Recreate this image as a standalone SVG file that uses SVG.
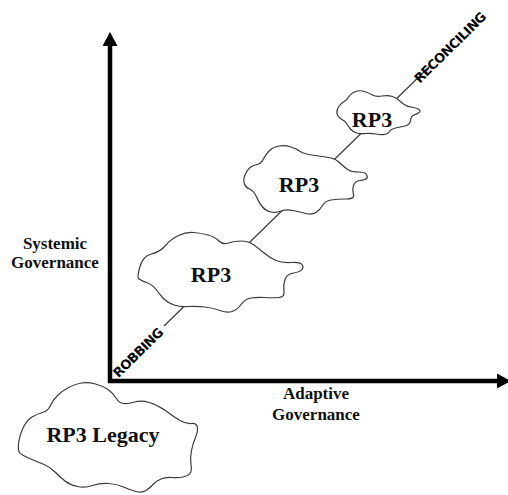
<svg xmlns="http://www.w3.org/2000/svg" width="508" height="495" viewBox="0 0 508 495">
<style>
.cloud{fill:#ffffff;stroke:#3a3a3a;stroke-width:1.2;stroke-linejoin:round}
.rp{font-family:"Liberation Serif","Times New Roman",serif;font-weight:bold;font-size:22px;fill:#111;text-anchor:middle}
.lab{font-family:"Liberation Serif","Times New Roman",serif;font-weight:bold;font-size:17px;fill:#111;text-anchor:middle}
.diag{font-family:"DejaVu Sans","Liberation Sans",sans-serif;font-weight:bold;font-size:13px;letter-spacing:-0.5px;fill:#000;text-anchor:middle}
.axis{stroke:#000;stroke-width:4.5;fill:none}
.trend{stroke:#333;stroke-width:1.1;fill:none}
</style>
<defs>
<marker id="ah" viewBox="0 0 14 15" markerWidth="14" markerHeight="15" refX="0" refY="7.5" orient="auto" markerUnits="userSpaceOnUse">
<path d="M0,0 L14,7.5 L0,15 Z" fill="#000"/>
</marker>
</defs>
<g id="connectors">
<line class="trend" x1="164" y1="326" x2="431" y2="65"/>
</g>
<g id="axes">
<line class="axis" x1="110" y1="383" x2="110" y2="46" marker-end="url(#ah)"/>
<line class="axis" x1="108" y1="381" x2="497" y2="381" marker-end="url(#ah)"/>
</g>
<g id="label-systemic">
<text class="lab" x="55" y="249">Systemic</text>
<text class="lab" x="55" y="268">Governance</text>
</g>
<g id="label-adaptive">
<text class="lab" x="316" y="399">Adaptive</text>
<text class="lab" x="316" y="420">Governance</text>
</g>
<g id="label-robbing">
<text class="diag" transform="translate(138,352.5) rotate(-44.5)" x="0" y="4.7">ROBBING</text>
</g>
<g id="label-reconciling">
<text class="diag" transform="translate(450,47.5) rotate(-44.5)" x="0" y="4.7">RECONCILING</text>
</g>
<g id="rp3-1">
<path class="cloud" d="M138.5 278.5 Q137 277 140 266.5 Q143 256 151.5 254 Q160 252 165.5 245.5 Q171 239 178.5 235.5 Q186 232 193.5 232.5 Q201 233 208 235 Q215 237 219 241 Q223 245 228.5 243 Q234 241 241 241 Q248 241 252.5 244 Q257 247 263.5 252.5 Q270 258 276 260.5 Q282 263 291 262.5 Q300 262 302 264.5 Q304 267 302 269.5 Q300 272 293.5 273 Q287 274 285 279.5 Q283 285 284 291 Q285 297 279 297.5 Q273 298 265 297.5 Q257 297 251 298 Q245 299 241 304.5 Q237 310 232 311.5 Q227 313 220 310.5 Q213 308 205 307 Q197 306 188.5 306.5 Q180 307 174 305 Q168 303 164 299 Q160 295 156.5 290 Q153 285 146.5 282.5 Q140 280 138.5 278.5 Z"/>
<text class="rp" x="211" y="282">RP3</text>
</g>
<g id="rp3-2">
<path class="cloud" d="M244 182.5 Q243 178 246.5 172 Q250 166 255.5 165 Q261 164 263.5 159 Q266 154 269.5 150.5 Q273 147 279 146 Q285 145 291 147 Q297 149 299.5 151 Q302 153 306.5 154 Q311 155 318.5 156 Q326 157 331 158 Q336 159 340.5 163.5 Q345 168 348.5 170 Q352 172 358.5 172 Q365 172 366.5 174.5 Q368 177 366.5 178.5 Q365 180 360 180.5 Q355 181 353.5 185.5 Q352 190 353.5 194.5 Q355 199 346 199 Q337 199 331 200 Q325 201 322.5 205.5 Q320 210 316 212.5 Q312 215 306 213.5 Q300 212 293 210.5 Q286 209 281 211 Q276 213 271 212 Q266 211 262.5 207 Q259 203 256.5 197 Q254 191 249.5 189 Q245 187 244 182.5 Z"/>
<text class="rp" x="299" y="192">RP3</text>
</g>
<g id="rp3-3">
<path class="cloud" d="M337.5 115 Q336 112 338 108 Q340 104 343.5 102 Q347 100 349 96.5 Q351 93 355.5 91.5 Q360 90 364.5 91.5 Q369 93 372.5 95 Q376 97 382 96 Q388 95 392.5 96.5 Q397 98 401 102 Q405 106 411 107 Q417 108 419 109.5 Q421 111 419 112.5 Q417 114 414 115 Q411 116 410.5 120.5 Q410 125 405 126 Q400 127 395.5 128 Q391 129 389.5 131.5 Q388 134 384.5 134.5 Q381 135 376 134 Q371 133 365.5 133.5 Q360 134 356.5 133 Q353 132 350.5 129 Q348 126 346.5 123.5 Q345 121 342 119.5 Q339 118 337.5 115 Z"/>
<text class="rp" x="372" y="127">RP3</text>
</g>
<g id="rp3-legacy">
<path class="cloud" d="M18.5 450 Q18 447 19 440.5 Q20 434 23.5 427 Q27 420 32 417 Q37 414 42.5 412.5 Q48 411 50.5 405.5 Q53 400 57.5 395.5 Q62 391 68.5 387.5 Q75 384 81.5 383 Q88 382 95.5 384 Q103 386 108 389.5 Q113 393 116 398 Q119 403 123.5 403.5 Q128 404 134.5 402 Q141 400 149.5 402.5 Q158 405 166 411 Q174 417 180 420.5 Q186 424 191.5 423.5 Q197 423 197.5 427.5 Q198 432 195.5 437.5 Q193 443 191.5 450.5 Q190 458 191 464.5 Q192 471 190 473.5 Q188 476 183 477 Q178 478 172 477.5 Q166 477 161 479 Q156 481 153 484.5 Q150 488 146 490.5 Q142 493 136 491.5 Q130 490 123.5 487 Q117 484 108.5 483.5 Q100 483 92.5 485.5 Q85 488 77.5 486.5 Q70 485 65 481 Q60 477 55 472 Q50 467 44 464.5 Q38 462 32 459.5 Q26 457 22.5 455 Q19 453 18.5 450 Z"/>
<text class="rp" x="103" y="442">RP3 Legacy</text>
</g>
</svg>
